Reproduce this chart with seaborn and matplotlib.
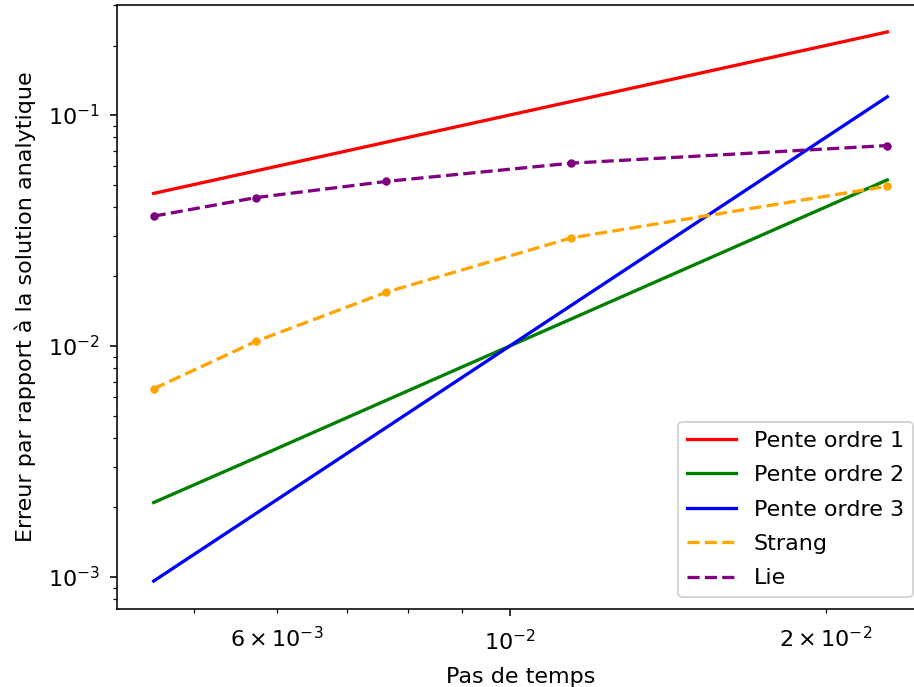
import matplotlib
matplotlib.use("Agg")
import matplotlib.pyplot as plt
import seaborn as sns
import numpy as np

# Data
dt = [0.0229, 0.01145, 0.00763, 0.00573, 0.00458]
pente1 = [0.229, 0.1145, 0.0763, 0.0573, 0.0458]
pente2 = [0.0524, 0.0131, 0.00582, 0.00328, 0.0021]
pente3 = [0.120, 0.0150, 0.00444, 0.00188, 0.00096]
strang = [0.0492, 0.0294, 0.0171, 0.01047, 0.00653]
lie = [0.0738, 0.0619, 0.0516, 0.0439, 0.0365]

plt.rcParams["font.size"] = 11.2
plt.rcParams["lines.linewidth"] = 1.65
plt.rcParams["xtick.major.pad"] = 7
plt.rcParams["xtick.minor.pad"] = 7
plt.rcParams["ytick.major.pad"] = 5
plt.rcParams["ytick.minor.pad"] = 5

DPI = 143
fig = plt.figure(figsize=(914 / DPI, 687 / DPI), dpi=DPI)
ax = fig.add_axes([117 / 914, (687 - 608.5) / 687, (924 - 117) / 914, (608.5 - 4.5) / 687])

sns.lineplot(x=dt, y=pente1, color="red", label="Pente ordre 1", ax=ax)
sns.lineplot(x=dt, y=pente2, color="green", label="Pente ordre 2", ax=ax)
sns.lineplot(x=dt, y=pente3, color="blue", label="Pente ordre 3", ax=ax)
sns.lineplot(x=dt, y=strang, color="orange", linestyle="--", label="Strang", ax=ax)
sns.lineplot(x=dt, y=lie, color="purple", linestyle="--", label="Lie", ax=ax)
sns.scatterplot(x=dt, y=strang, color="orange", s=18, linewidth=0, ax=ax, zorder=3)
sns.scatterplot(x=dt, y=lie, color="purple", s=18, linewidth=0, ax=ax, zorder=3)

ax.set_xscale("log")
ax.set_yscale("log")
ax.set_xlabel("Pas de temps", labelpad=6.5)
ax.set_ylabel("Erreur par rapport à la solution analytique", labelpad=6)
ax.legend(loc="lower right", labelspacing=0.65, handlelength=2.2)

fig.savefig("out.png", dpi=DPI)
